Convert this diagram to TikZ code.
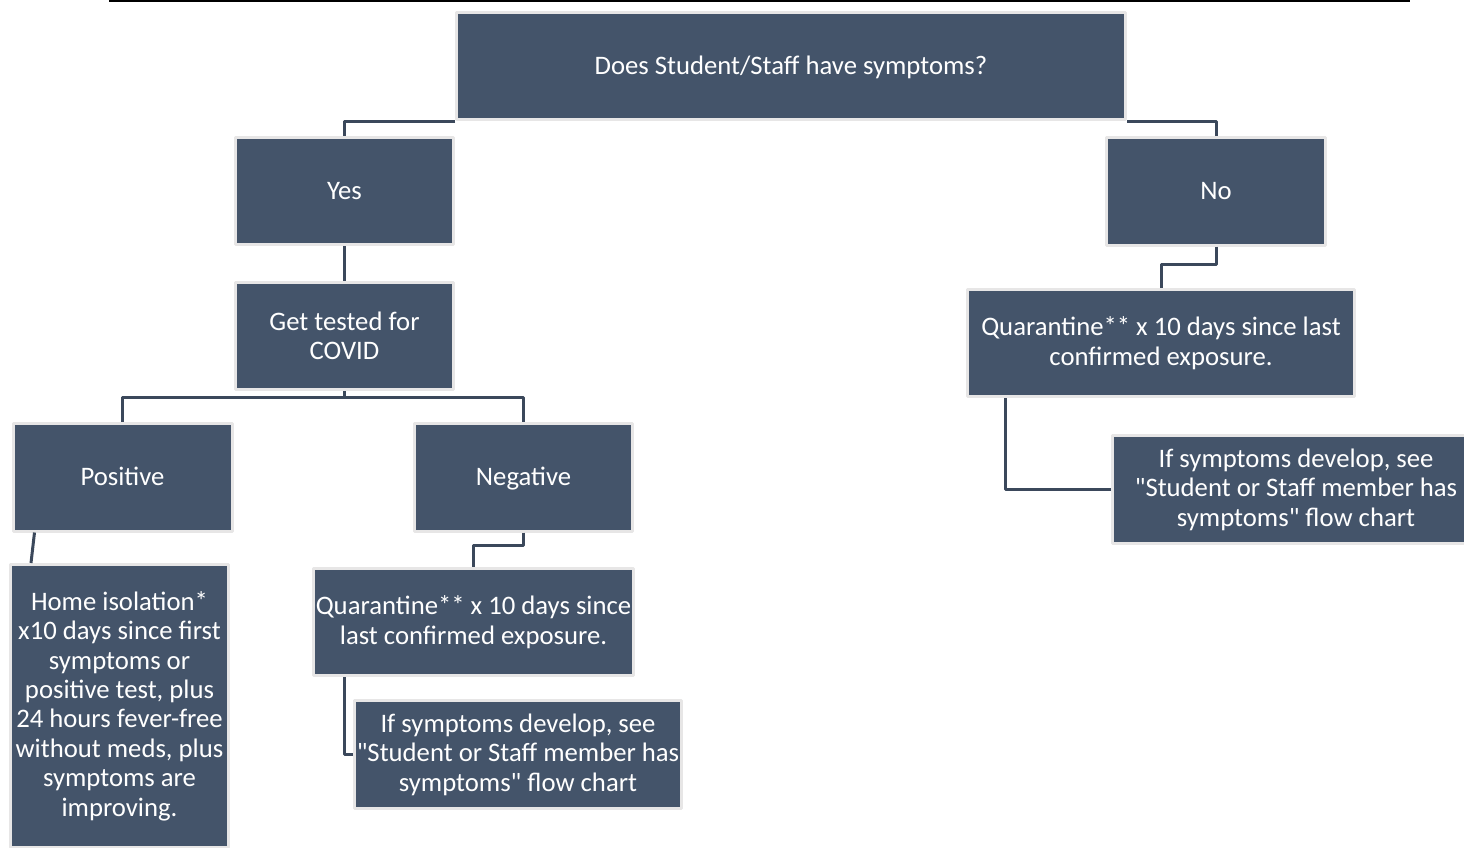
\documentclass[tikz,border=0pt]{standalone}
\usepackage{fontspec}
\setmainfont{Carlito}[Ligatures=TeXOff]
\definecolor{boxfill}{HTML}{44546A}
\definecolor{boxedge}{HTML}{E7E6E6}
\definecolor{linecol}{HTML}{3B485B}
\tikzset{
  stepnode/.style={rectangle, fill=boxfill, draw=boxedge, line width=3pt,
    text=white, align=center, inner sep=1pt,
    font=\fontsize{26.7}{29.4}\selectfont},
  oneline/.style={text height=20pt, text depth=3pt},
  link/.style={draw=linecol, line width=3pt},
}

\begin{document}
\begin{tikzpicture}[x=1pt,y=-1pt,line join=bevel]
\useasboundingbox (0,0) rectangle (1464,847);
\clip (0,0) rectangle (1464,847);
  % Header rule
  \draw [line width=2.5pt] (109,1) -- (1410,1);
%%
  % Node: top
  \node [stepnode, oneline, minimum width=669, minimum height=107] (top) at (791,66) {Does Student/Staff have symptoms?};
  % Node: yes
  \node [stepnode, oneline, minimum width=218, minimum height=107] (yes) at (344.5,191) {Yes};
  % Node: no
  \node [stepnode, oneline, minimum width=219, minimum height=108] (no) at (1216,191) {No};
  % Node: test
  \node [stepnode, minimum width=218, minimum height=107] (test) at (344.5,336) {Get tested for\\COVID};
  % Node: quarright
  \node [stepnode, minimum width=387, minimum height=107] (quarright) at (1161,343) {Quarantine** x 10 days since last\\confirmed exposure.};
  % Node: pos
  \node [stepnode, oneline, minimum width=219, minimum height=108] (pos) at (122.5,477) {Positive};
  % Node: neg
  \node [stepnode, oneline, minimum width=218, minimum height=108] (neg) at (523.5,477) {Negative};
  % Node: home
  \node [stepnode, minimum width=218, minimum height=283] (home) at (119.5,706) {Home isolation*\\x10 days since first\\symptoms or\\positive test, plus\\24 hours fever-free\\without meds, plus\\symptoms are\\improving.};
  % Node: quarmid
  \node [stepnode, minimum width=320, minimum height=107] (quarmid) at (473.5,622) {Quarantine** x 10 days since\\last confirmed exposure.};
  % Node: ifmid
  \node [stepnode, minimum width=327, minimum height=108] (ifmid) at (518,754.5) {If symptoms develop, see\\"Student or Staff member has\\symptoms" flow chart};
  % Node: ifright
  \node [stepnode, minimum width=367, minimum height=108] (ifright) at (1296,489.5) {If symptoms develop, see\\"Student or Staff member has\\symptoms" flow chart};
%%
  % Edge: top -- yes
  \draw [link] (top.south west) -| (yes.north);
  % Edge: top -- no
  \draw [link] (top.south east) -| (no.north);
  % Edge: yes -- test
  \draw [link] (yes.south) -- (test.north);
  % Edge: test -- pos, neg
  \coordinate (split) at (344.5,397);
  \draw [link] (test.south) -- (split);
  \draw [link] (split) -| (pos.north);
  \draw [link] (split) -| (neg.north);
  % Edge: pos -- home
  \draw [link] ([xshift=23]pos.south west) -- ([xshift=22]home.north west);
  % Edge: neg -- quarmid
  \draw [link] (neg.south) -- ++(0,13) -| (quarmid.north);
  % Edge: no -- quarright
  \draw [link] (no.south) -- ++(0,18) -| (quarright.north);
  % Edge: quarmid -- ifmid
  \draw [link] ([xshift=32]quarmid.south west) |- (ifmid.west);
  % Edge: quarright -- ifright
  \draw [link] ([xshift=39]quarright.south west) |- (ifright.west);
%
\end{tikzpicture}
\end{document}
